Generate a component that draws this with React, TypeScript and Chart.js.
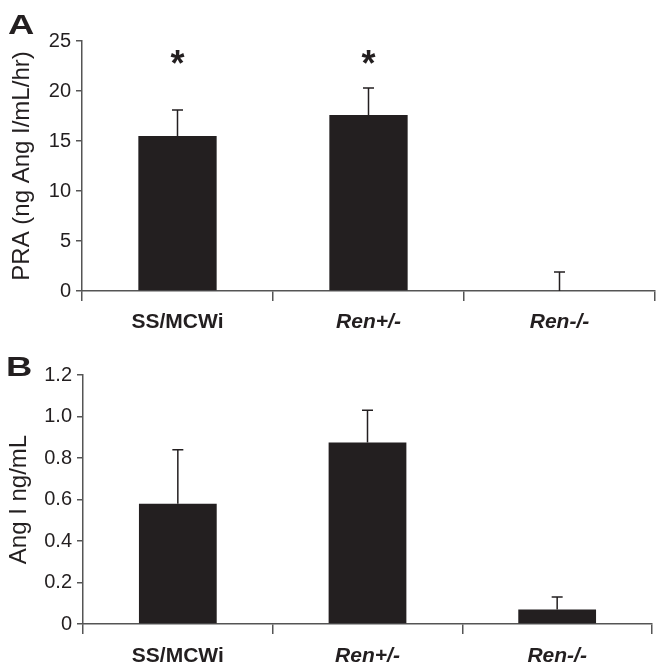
import React, { useEffect, useRef } from "react";
import { Chart, registerables } from "chart.js";

Chart.register(...registerables);

// ---------- data ----------
const categories = ["SS/MCWi", "Ren+/-", "Ren-/-"];
const italicCategory = [false, true, true];

const praMeans = [15.5, 17.6, 0];
const praErrors = [2.6, 2.7, 1.9];
const praMarks = ["*", "*", ""];
const praTickMax = 25;
const praTickStep = 5;

const angMeans = [0.58, 0.875, 0.07];
const angErrors = [0.26, 0.155, 0.06];
const angMarks = ["", "", ""];
const angTickMax = 1.2;
const angTickStep = 0.2;

// ---------- styles ----------
const FONT = "'Liberation Sans', Arial, Helvetica, sans-serif";
const BAR = "#231f20";
const TEXT = "#231f20";
const AXIS = "#555555";

const overlayPlugin = {
  id: "overlay",
  afterDatasetsDraw(chart: any, _args: any, opts: any) {
    const { ctx, chartArea } = chart;
    const yScale = chart.scales.y;
    const meta = chart.getDatasetMeta(0);
    ctx.save();
    meta.data.forEach((bar: any, i: number) => {
      const mean = opts.means[i];
      const err = opts.errors[i];
      const x = bar.x;
      const y0 = yScale.getPixelForValue(mean);
      const y1 = yScale.getPixelForValue(mean + err);
      ctx.strokeStyle = BAR;
      ctx.lineWidth = 1.5;
      ctx.beginPath();
      ctx.moveTo(x, y0);
      ctx.lineTo(x, y1);
      ctx.moveTo(x - 5.5, y1);
      ctx.lineTo(x + 5.5, y1);
      ctx.stroke();
      const mark = opts.marks[i];
      if (mark) {
        ctx.fillStyle = TEXT;
        ctx.font = `bold 36px ${FONT}`;
        ctx.textAlign = "center";
        ctx.textBaseline = "alphabetic";
        ctx.fillText(mark, x, chartArea.top + 35);
      }
    });
    // panel letter
    ctx.fillStyle = TEXT;
    ctx.font = `bold 28px ${FONT}`;
    ctx.textAlign = "left";
    ctx.textBaseline = "alphabetic";
    ctx.translate(opts.letterX, opts.letterY);
    ctx.scale(1.3, 1);
    ctx.fillText(opts.letter, 0, 0);
    ctx.restore();
  },
};

type PanelProps = {
  width: number;
  height: number;
  means: number[];
  errors: number[];
  marks: string[];
  max: number;
  step: number;
  title: string;
  titlePad: number;
  letter: string;
  letterX: number;
  letterY: number;
  padTop: number;
  padRight: number;
  yWidth: number;
  xHeight: number;
  xLabelPad: number;
  decimals: number;
};

function Panel(p: PanelProps) {
  const ref = useRef<HTMLCanvasElement | null>(null);
  useEffect(() => {
    if (!ref.current) return;
    const chart = new Chart(ref.current, {
      type: "bar",
      data: {
        labels: categories,
        datasets: [
          {
            data: p.means,
            backgroundColor: BAR,
            borderWidth: 0,
            barPercentage: 0.41,
            categoryPercentage: 1,
          },
        ],
      },
      options: {
        animation: false,
        responsive: false,
        maintainAspectRatio: false,
        events: [],
        layout: { padding: { left: 0, right: p.padRight, top: p.padTop, bottom: 0 } },
        plugins: {
          legend: { display: false },
          tooltip: { enabled: false },
          overlay: {
            means: p.means,
            errors: p.errors,
            marks: p.marks,
            letter: p.letter,
            letterX: p.letterX,
            letterY: p.letterY,
          },
        } as any,
        scales: {
          x: {
            grid: {
              display: true,
              drawOnChartArea: false,
              drawTicks: true,
              tickLength: 10,
              offset: true,
              color: AXIS,
              lineWidth: 1.5,
            },
            border: { display: true, color: AXIS, width: 1.5 },
            ticks: {
              color: TEXT,
              padding: p.xLabelPad,
              font: (ctx: any) => ({
                family: FONT,
                size: 21,
                weight: "bold",
                style: italicCategory[ctx.index] ? "italic" : "normal",
              }),
            } as any,
            afterFit: (s: any) => {
              s.height = p.xHeight;
            },
          },
          y: {
            min: 0,
            max: p.max,
            grid: {
              display: true,
              drawOnChartArea: false,
              drawTicks: true,
              tickLength: 6,
              color: AXIS,
              lineWidth: 1.5,
            },
            border: { display: true, color: AXIS, width: 1.5 },
            ticks: {
              stepSize: p.step,
              padding: 5,
              color: TEXT,
              font: { family: FONT, size: 20 },
              callback: (v: any) => {
                const n = Number(v);
                if (n === 0) return "0";
                return p.decimals ? n.toFixed(p.decimals) : String(Math.round(n));
              },
            },
            title: {
              display: true,
              text: p.title,
              color: TEXT,
              font: { family: FONT, size: 24 },
              padding: { top: p.titlePad, bottom: 0 },
            },
            afterFit: (s: any) => {
              s.width = p.yWidth;
            },
          },
        },
      },
      plugins: [overlayPlugin],
    });
    return () => chart.destroy();
  }, []);
  return (
    <canvas
      ref={ref}
      width={p.width}
      height={p.height}
      style={{ display: "block", width: p.width, height: p.height }}
    />
  );
}

export default function App() {
  return (
    <div
      style={{
        position: "fixed",
        left: 0,
        top: 0,
        width: 664,
        height: 669,
        background: "#ffffff",
      }}
    >
      <Panel
        width={664}
        height={345}
        means={praMeans}
        errors={praErrors}
        marks={praMarks}
        max={praTickMax}
        step={praTickStep}
        title="PRA (ng Ang I/mL/hr)"
        titlePad={8}
        letter="A"
        letterX={8}
        letterY={34}
        padTop={41}
        padRight={9}
        yWidth={82}
        xHeight={54}
        xLabelPad={9}
        decimals={0}
      />
      <Panel
        width={664}
        height={324}
        means={angMeans}
        errors={angErrors}
        marks={angMarks}
        max={angTickMax}
        step={angTickStep}
        title="Ang I ng/mL"
        titlePad={5}
        letter="B"
        letterX={6}
        letterY={31}
        padTop={30}
        padRight={12}
        yWidth={83}
        xHeight={45}
        xLabelPad={10}
        decimals={1}
      />
    </div>
  );
}
